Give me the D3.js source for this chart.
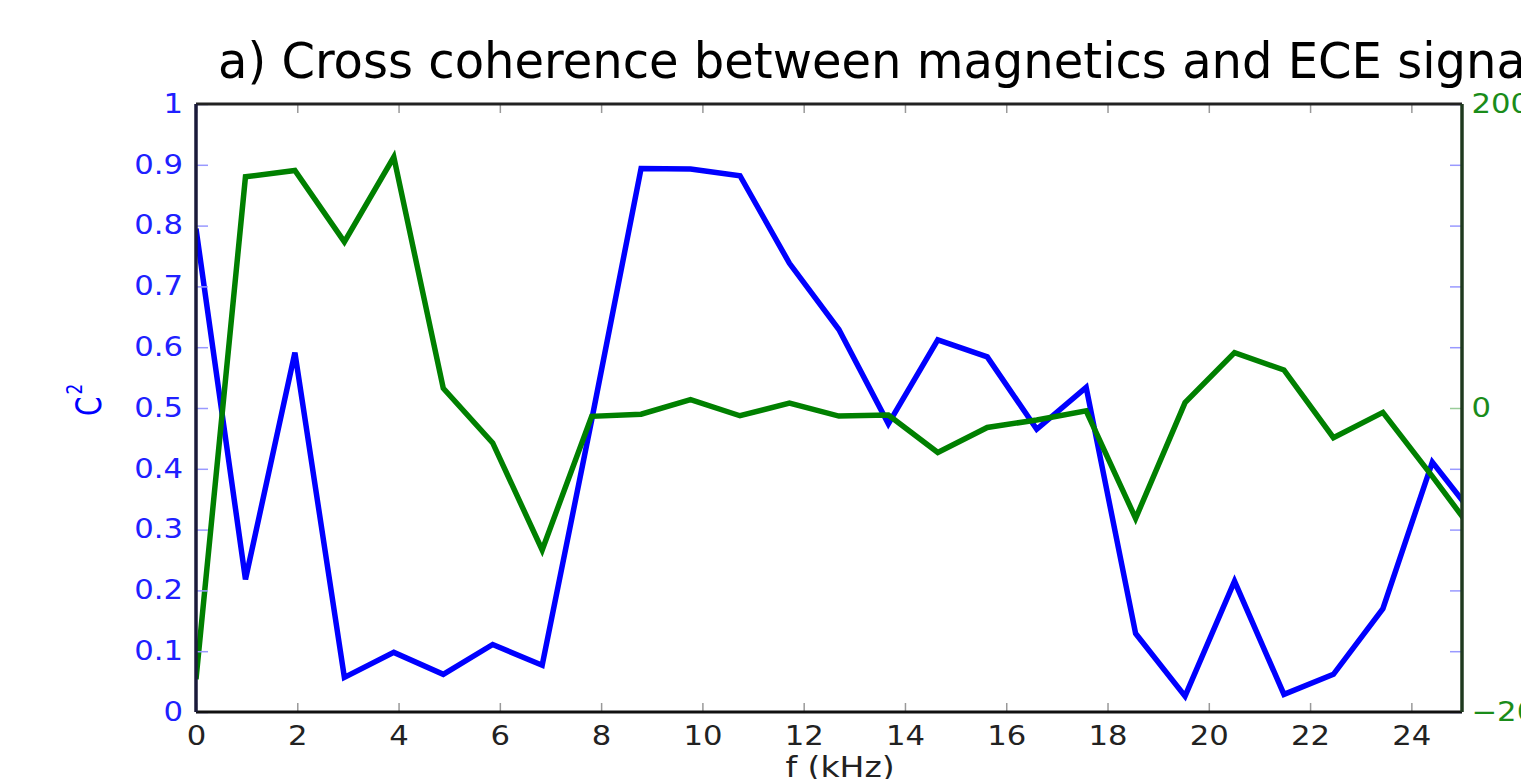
<!DOCTYPE html>
<html lang="en">
<head>
    <meta charset="UTF-8">
    <title>cross coherence</title>
    <script src="https://d3js.org/d3.v7.min.js"></script>
    <style>
        body { margin: 0; background: #fff; }
        svg { display: block; font-family: "DejaVu Sans", Verdana, sans-serif; }
    </style>
</head>
<body>
    <svg width="1521" height="779"></svg>
    <script>
        // frequency bins (kHz)
        const freq = [0, 0.977, 1.953, 2.930, 3.906, 4.883, 5.859, 6.836, 7.813, 8.789,
            9.766, 10.742, 11.719, 12.695, 13.672, 14.648, 15.625, 16.602, 17.578,
            18.555, 19.531, 20.508, 21.484, 22.461, 23.438, 24.414, 25.391];
        // coherence squared (left axis)
        const coherence = [0.795, 0.218, 0.591, 0.057, 0.098, 0.062, 0.111, 0.077, 0.48, 0.894,
            0.893, 0.882, 0.738, 0.629, 0.474, 0.612, 0.584, 0.465, 0.534,
            0.129, 0.026, 0.215, 0.029, 0.062, 0.170, 0.411, 0.307];
        // phase (right axis)
        const phase = [-178.5, 152.1, 156.3, 109.3, 165.1, 13.0, -23.0, -93.4, -5.5, -4.1,
            5.5, -5.1, 3.2, -5.3, -4.6, -29.3, -12.8, -7.9, -1.8,
            -72.6, 3.5, 36.4, 25.0, -19.5, -2.9, -45, -88.6];

        const xTicks = [0, 2, 4, 6, 8, 10, 12, 14, 16, 18, 20, 22, 24];
        const leftTicks = [0, 0.1, 0.2, 0.3, 0.4, 0.5, 0.6, 0.7, 0.8, 0.9, 1];
        const rightTicks = [-200, 0, 200];

        const margin = {top: 104, left: 196, right: 59, bottom: 67};
        const width = 1521, height = 779;
        const svg = d3.select('svg');

        const x = d3.scaleLinear().domain([0, 25]).range([margin.left, width - margin.right]);
        const yL = d3.scaleLinear().domain([0, 1]).range([height - margin.bottom, margin.top]);
        const yR = d3.scaleLinear().domain([-200, 200]).range([height - margin.bottom, margin.top]);

        const blue = '#0000ff', green = '#008000';
        const stretch = 1.18; // tick labels look wide in the picture

        svg.append('clipPath').attr('id', 'plot')
            .append('rect')
            .attr('x', x(0)).attr('y', yL(1))
            .attr('width', x(25) - x(0)).attr('height', yL(0) - yL(1));

        // title
        svg.append('text')
            .attr('x', 218).attr('y', 78)
            .attr('font-size', 49)
            .attr('transform', 'translate(218,0) scale(0.98,1) translate(-218,0)')
            .attr('fill', '#000')
            .text('a) Cross coherence between magnetics and ECE signals');

        // lines
        const data = freq.map((f, i) => ({f: f, c: coherence[i], p: phase[i]}));
        const g = svg.append('g').attr('clip-path', 'url(#plot)');
        g.append('path').datum(data)
            .attr('fill', 'none').attr('stroke', blue).attr('stroke-width', 5.5)
            .attr('d', d3.line().x(d => x(d.f)).y(d => yL(d.c)));
        g.append('path').datum(data)
            .attr('fill', 'none').attr('stroke', green).attr('stroke-width', 5.5)
            .attr('d', d3.line().x(d => x(d.f)).y(d => yR(d.p)));

        // axes
        const xAxis = d3.axisBottom(x).tickValues(xTicks).tickSize(-9).tickPadding(15);
        const xAxisTop = d3.axisTop(x).tickValues(xTicks).tickSize(-9).tickFormat('');
        const leftAxis = d3.axisLeft(yL).tickValues(leftTicks).tickSize(-12).tickPadding(11)
            .tickFormat(d => d === 0 || d === 1 ? d3.format('d')(d) : d3.format('.1f')(d));
        const rightMirror = d3.axisRight(yL).tickValues(leftTicks).tickSize(-12).tickFormat('');
        const rightAxis = d3.axisRight(yR).tickValues(rightTicks).tickSize(-12).tickPadding(8)
            .tickFormat(d => d < 0 ? '\u2212' + Math.abs(d) : d);

        function style(sel, tickColor, textColor) {
            sel.select('.domain').remove();
            sel.selectAll('.tick line').attr('stroke', tickColor).attr('stroke-width', 1.5);
            sel.selectAll('.tick text').attr('fill', textColor)
                .attr('font-size', 26).attr('font-family', '"DejaVu Sans", Verdana, sans-serif')
                .attr('transform', `scale(${stretch},1)`);
        }

        const gx = svg.append('g').attr('transform', `translate(0,${yL(0)})`).call(xAxis);
        style(gx, '#999', '#222');
        const gxt = svg.append('g').attr('transform', `translate(0,${yL(1)})`).call(xAxisTop);
        style(gxt, '#999', '#222');

        const gl = svg.append('g').attr('transform', `translate(${x(0)},0)`).call(leftAxis);
        style(gl, '#9999ff', '#2020ff');
        const grm = svg.append('g').attr('transform', `translate(${x(25)},0)`).call(rightMirror);
        style(grm, '#9999ff', '#2020ff');
        grm.selectAll('.tick').filter(d => d === 0.5).remove();
        const gr = svg.append('g').attr('transform', `translate(${x(25)},0)`).call(rightAxis);
        style(gr, '#99cc99', '#1a8c1a');
        gr.selectAll('.tick line').filter(d => d !== 0).remove();
        gr.selectAll('.tick text').attr('text-anchor', 'start');

        // frame
        svg.append('line').attr('x1', x(0)).attr('x2', x(25)).attr('y1', yL(1)).attr('y2', yL(1))
            .attr('stroke', '#222').attr('stroke-width', 3);
        svg.append('line').attr('x1', x(0)).attr('x2', x(25)).attr('y1', yL(0)).attr('y2', yL(0))
            .attr('stroke', '#111').attr('stroke-width', 3);
        svg.append('line').attr('x1', x(0)).attr('x2', x(0)).attr('y1', yL(1)).attr('y2', yL(0))
            .attr('stroke', '#1a1a3a').attr('stroke-width', 3.5);
        svg.append('line').attr('x1', x(25)).attr('x2', x(25)).attr('y1', yL(1)).attr('y2', yL(0))
            .attr('stroke', '#1f3a1f').attr('stroke-width', 3.5);

        // axis labels
        svg.append('text')
            .attr('transform', `translate(840,777) scale(${stretch},1)`)
            .attr('text-anchor', 'middle').attr('font-size', 28).attr('fill', '#222')
            .text('f (kHz)');

        const yl = svg.append('text')
            .attr('transform', 'translate(101,416) rotate(-90) scale(1,1.25)')
            .attr('font-size', 28).attr('fill', blue);
        yl.append('tspan').text('C');
        yl.append('tspan').attr('dy', -15).attr('dx', 2).attr('font-size', 17).text('2');
    </script>
</body>
</html>
